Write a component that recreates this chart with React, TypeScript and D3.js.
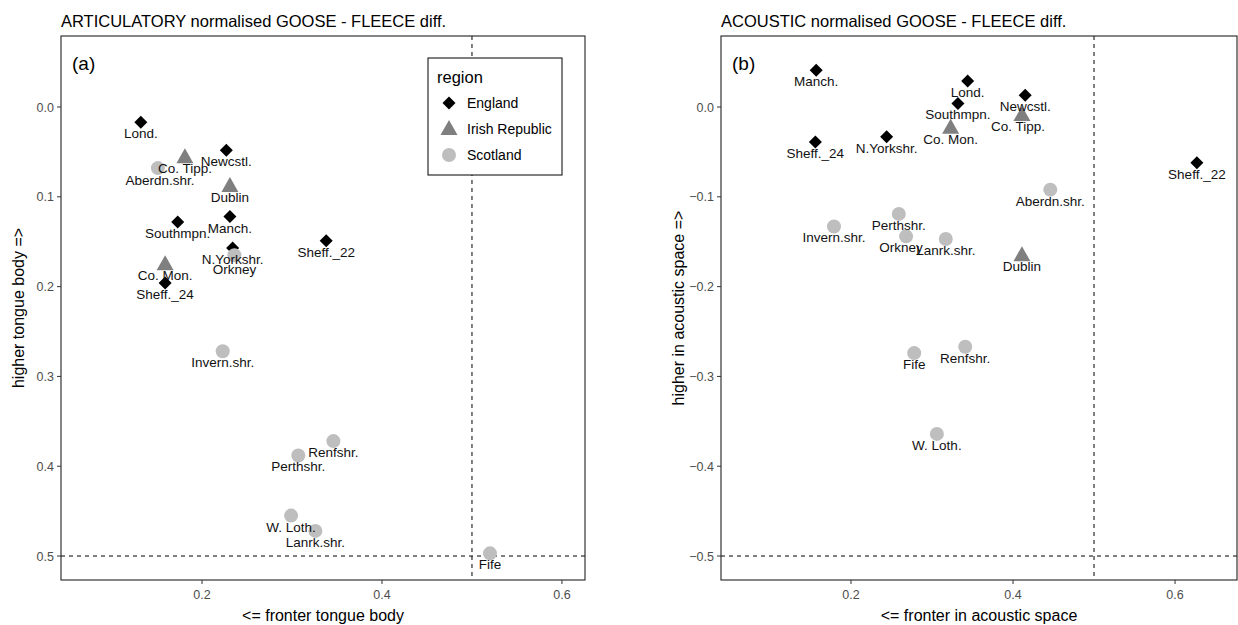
import React from "react";
import * as d3 from "d3";

// Sites and their region
const sites = [
  "Lond.", "Newcstl.", "Southmpn.", "Manch.", "N.Yorkshr.", "Sheff._22", "Sheff._24",
  "Co. Tipp.", "Dublin", "Co. Mon.",
  "Aberdn.shr.", "Orkney", "Invern.shr.", "Renfshr.", "Perthshr.", "W. Loth.", "Lanrk.shr.", "Fife",
];
const siteRegion = [
  "England", "England", "England", "England", "England", "England", "England",
  "Irish Republic", "Irish Republic", "Irish Republic",
  "Scotland", "Scotland", "Scotland", "Scotland", "Scotland", "Scotland", "Scotland", "Scotland",
];
const regions = ["England", "Irish Republic", "Scotland"];

// Articulatory GOOSE - FLEECE differences
const artX = [0.132, 0.227, 0.173, 0.231, 0.234, 0.338, 0.159, 0.181, 0.231, 0.159, 0.151, 0.236, 0.223, 0.346, 0.307, 0.299, 0.326, 0.52];
const artY = [0.017, 0.048, 0.128, 0.122, 0.157, 0.149, 0.196, 0.056, 0.088, 0.175, 0.068, 0.165, 0.272, 0.372, 0.388, 0.455, 0.472, 0.497];

// Acoustic GOOSE - FLEECE differences
const acuX = [0.344, 0.415, 0.332, 0.157, 0.244, 0.627, 0.156, 0.411, 0.411, 0.323, 0.446, 0.268, 0.179, 0.341, 0.259, 0.306, 0.317, 0.278];
const acuY = [0.029, 0.013, 0.004, 0.041, -0.033, -0.062, -0.039, -0.009, -0.165, -0.023, -0.092, -0.144, -0.133, -0.267, -0.119, -0.364, -0.147, -0.274];

const xTicks = [0.2, 0.4, 0.6];
const artYTicks = [0.0, 0.1, 0.2, 0.3, 0.4, 0.5];
const acuYTicks = [0.0, -0.1, -0.2, -0.3, -0.4, -0.5];

const FONT = "'Liberation Sans', Arial, Helvetica, sans-serif";
const regionFill: Record<string, string> = {
  England: "#000000",
  "Irish Republic": "#7f7f7f",
  Scotland: "#bebebe",
};

// Small label shifts (px) where labels sit off-centre
const artNudge: Record<string, [number, number]> = {
  "Aberdn.shr.": [2, 1],
  Orkney: [0, 3],
};
const acuNudge: Record<string, [number, number]> = {
  Orkney: [-5, 0],
  "Co. Tipp.": [-4, 0],
};

function Symbol({ region, x, y }: { region: string; x: number; y: number }) {
  const fill = regionFill[region];
  if (region === "England") {
    const h = 6.5;
    return <path d={`M${x},${y - h}L${x + h},${y}L${x},${y + h}L${x - h},${y}Z`} fill={fill} />;
  }
  if (region === "Irish Republic") {
    return <path d={`M${x},${y - 9}L${x + 8.5},${y + 6}L${x - 8.5},${y + 6}Z`} fill={fill} />;
  }
  return <circle cx={x} cy={y} r={7} fill={fill} />;
}

type PanelProps = {
  left: number;
  right: number;
  title: string;
  tag: string;
  xDomain: [number, number];
  yDomain: [number, number];
  xs: number[];
  ys: number[];
  yTicks: number[];
  xTitle: string;
  yTitle: string;
  hLine: number;
  nudge: Record<string, [number, number]>;
  legend?: boolean;
};

const TOP = 36;
const BOTTOM = 580;

function Panel(p: PanelProps) {
  const x = d3.scaleLinear().domain(p.xDomain).range([p.left, p.right]);
  const y = d3.scaleLinear().domain(p.yDomain).range([TOP, BOTTOM]);
  const fmt = d3.format(".1f");
  const midX = (p.left + p.right) / 2;
  const midY = (TOP + BOTTOM) / 2;
  return (
    <g fontFamily={FONT}>
      <text x={p.left} y={27} fontSize={16.5} fill="#000">{p.title}</text>
      <defs>
        <clipPath id={`clip-${p.tag}`}>
          <rect x={p.left} y={TOP} width={p.right - p.left} height={BOTTOM - TOP} />
        </clipPath>
      </defs>
      <g clipPath={`url(#clip-${p.tag})`}>
        <line x1={x(0.5)} x2={x(0.5)} y1={TOP} y2={BOTTOM} stroke="#000" strokeWidth={1} strokeDasharray="4,4" />
        <line x1={p.left} x2={p.right} y1={y(p.hLine)} y2={y(p.hLine)} stroke="#000" strokeWidth={1} strokeDasharray="4,4" />
        {sites.map((s, i) => (
          <Symbol key={s} region={siteRegion[i]} x={x(p.xs[i])} y={y(p.ys[i])} />
        ))}
        {sites.map((s, i) => {
          const [dx, dy] = p.nudge[s] || [0, 0];
          return (
            <text key={s} x={x(p.xs[i]) + dx} y={y(p.ys[i]) + 16 + dy} fontSize={13.5} textAnchor="middle" fill="#111">
              {s}
            </text>
          );
        })}
      </g>
      <rect x={p.left} y={TOP} width={p.right - p.left} height={BOTTOM - TOP} fill="none" stroke="#222" strokeWidth={1.1} />
      <text x={p.left + 11} y={70} fontSize={19} fill="#000">{`(${p.tag})`}</text>
      {p.yTicks.map((t) => (
        <g key={t}>
          <line x1={p.left - 4} x2={p.left} y1={y(t)} y2={y(t)} stroke="#333" />
          <text x={p.left - 7} y={y(t) + 4.5} fontSize={12.5} textAnchor="end" fill="#4d4d4d">{fmt(t)}</text>
        </g>
      ))}
      {xTicks.map((t) => (
        <g key={t}>
          <line x1={x(t)} x2={x(t)} y1={BOTTOM} y2={BOTTOM + 4} stroke="#333" />
          <text x={x(t)} y={BOTTOM + 19} fontSize={12.5} textAnchor="middle" fill="#4d4d4d">{fmt(t)}</text>
        </g>
      ))}
      <text x={midX} y={621} fontSize={16} textAnchor="middle" fill="#000">{p.xTitle}</text>
      <text
        transform={`translate(${p.left - 43},${midY}) rotate(-90)`}
        fontSize={16}
        textAnchor="middle"
        dominantBaseline="central"
        fill="#000"
      >
        {p.yTitle}
      </text>
      {p.legend && (
        <g>
          <rect x={428} y={58} width={134} height={117} fill="#fff" stroke="#000" strokeWidth={1} />
          <text x={437} y={83} fontSize={16.5} fill="#000">region</text>
          {regions.map((r, i) => (
            <g key={r}>
              <Symbol region={r} x={449} y={103 + i * 26} />
              <text x={467} y={103 + i * 26 + 5} fontSize={14} fill="#000">{r}</text>
            </g>
          ))}
        </g>
      )}
    </g>
  );
}

export default function App() {
  return (
    <svg width={1238} height={625} style={{ position: "absolute", left: 0, top: 0, background: "#fff" }}>
      <rect width={1238} height={625} fill="#fff" />
      <Panel
        left={61}
        right={585}
        title="ARTICULATORY normalised GOOSE - FLEECE diff."
        tag="a"
        xDomain={[0.0433, 0.6256]}
        yDomain={[-0.0791, 0.5267]}
        xs={artX}
        ys={artY}
        yTicks={artYTicks}
        xTitle="<= fronter tongue body"
        yTitle="higher tongue body =>"
        hLine={0.5}
        nudge={artNudge}
        legend
      />
      <Panel
        left={721}
        right={1237}
        title="ACOUSTIC normalised GOOSE - FLEECE diff."
        tag="b"
        xDomain={[0.0395, 0.6765]}
        yDomain={[0.0791, -0.5267]}
        xs={acuX}
        ys={acuY}
        yTicks={acuYTicks}
        xTitle="<= fronter in acoustic space"
        yTitle="higher in acoustic space =>"
        hLine={-0.5}
        nudge={acuNudge}
      />
    </svg>
  );
}
